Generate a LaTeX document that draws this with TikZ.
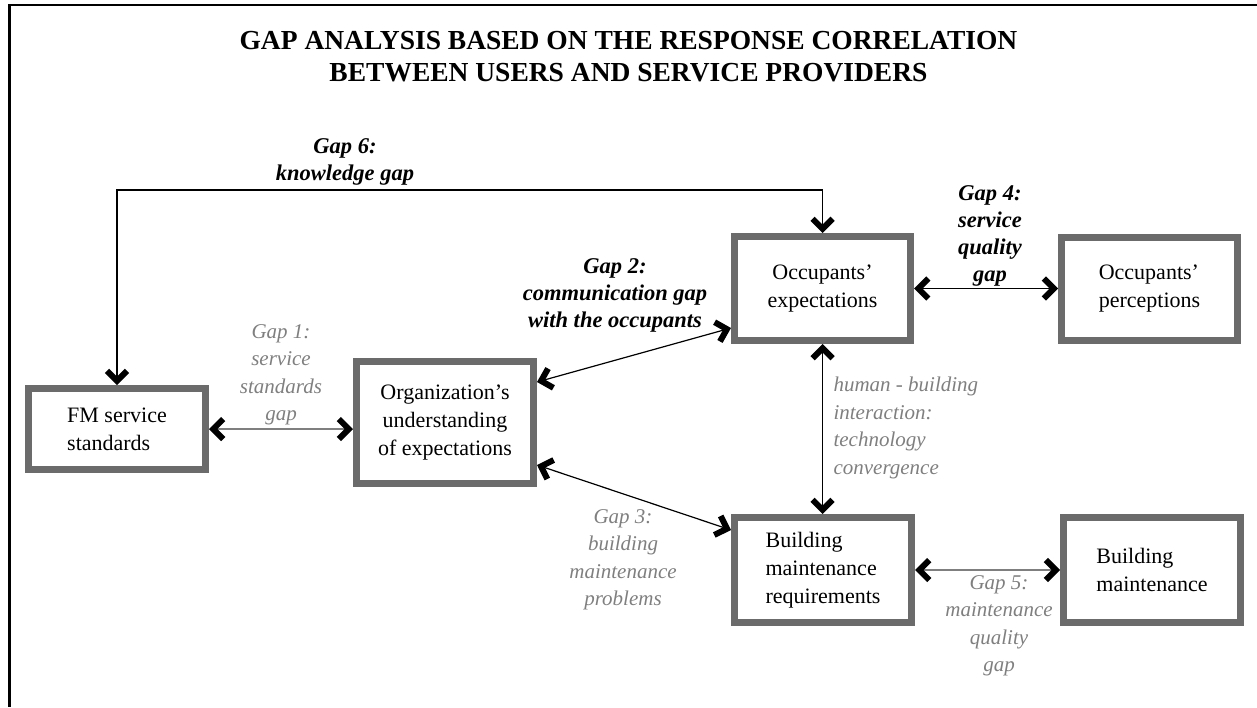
\documentclass[tikz,border=0pt]{standalone}
\usepackage{fontspec}
\setmainfont{Liberation Serif}
\usetikzlibrary{arrows.meta}
\definecolor{boxgray}{HTML}{6B6B6B}
\definecolor{labelgray}{HTML}{7F7F7F}
\tikzset{
  gapbox/.style={draw=boxgray, line width=7pt, outer sep=3.5pt, inner sep=0pt,
    fill=white, font=\fontsize{22}{28}\selectfont},
  chev/.tip={Straight Barb[length=10pt,width=20pt,line width=6pt,color=black]},
  link/.style={line width=1.2pt, chev-chev},
  greylink/.style={link, draw=labelgray},
  gaplabel/.style={text=labelgray, font=\itshape\fontsize{21}{27.5}\selectfont, align=center},
  keylabel/.style={font=\bfseries\itshape\fontsize{22.5}{27}\selectfont, align=center},
}

\begin{document}
\begin{tikzpicture}[x=1pt,y=-1pt]
  \useasboundingbox (0,0) rectangle (1257,707);

  %frame and title
  \draw[line width=2pt] (8,5) -- (1257,5);
  \draw[line width=3pt] (9,4) -- (9,707);
  \node[font=\bfseries\fontsize{27.5}{32}\selectfont, align=center] (title) at (628.5,57)
    {GAP ANALYSIS BASED ON THE RESPONSE CORRELATION\\BETWEEN USERS AND SERVICE PROVIDERS};

  %the six boxes
  \node[gapbox, minimum width=177pt, minimum height=81pt, align=left] (fm) at (117,429)
    {FM service\\standards};
  \node[gapbox, minimum width=177pt, minimum height=122pt, align=center] (org) at (445,422.5)
    {Organization's\\understanding\\of expectations};
  \node[gapbox, minimum width=176pt, minimum height=104pt, align=center] (occexp) at (822.5,288.5)
    {Occupants'\\expectations};
  \node[gapbox, minimum width=176pt, minimum height=103pt, align=left] (occper) at (1149.5,289)
    {Occupants'\\perceptions};
  \node[gapbox, minimum width=177pt, minimum height=105pt, align=left] (bmreq) at (823,570)
    {Building\\maintenance\\requirements};
  \node[gapbox, minimum width=177pt, minimum height=105pt, align=left] (bm) at (1152,570)
    {Building\\maintenance};

  %connectors
  \coordinate (k6) at (0,190);
  \draw[link] (fm.north) -- (fm.north |- k6) -| (occexp.north);
  \draw[greylink] (fm.east) -- (fm.east -| org.west);
  \draw[link] ([yshift=40.5pt]org.east) -- ([yshift=-39.5pt]occexp.west);
  \draw[link] ([yshift=-42.5pt]org.east) -- ([yshift=40pt]bmreq.west);
  \draw[link] (occexp.south) -- (occexp.south |- bmreq.north);
  \draw[link] (occexp.east) -- (occexp.east -| occper.west);
  \draw[greylink] (bmreq.east) -- (bmreq.east -| bm.west);

  %gap labels
  \node[keylabel] (g6) at (345,162) {Gap 6:\\knowledge gap};
  \node[keylabel] (g2) at (615,295) {Gap 2:\\communication gap\\with the occupants};
  \node[keylabel] (g4) at (990,236) {Gap 4:\\service\\quality\\gap};
  \node[gaplabel] (g1) at (281,375) {Gap 1:\\service\\standards\\gap};
  \node[gaplabel] (g3) at (623,560) {Gap 3:\\building\\maintenance\\problems};
  \node[gaplabel] (g5) at (999,626) {Gap 5:\\maintenance\\quality\\gap};
  \node[gaplabel, anchor=west, align=left] (hbi) at (830,428)
    {human - building\\interaction:\\technology\\convergence};
\end{tikzpicture}
\end{document}
